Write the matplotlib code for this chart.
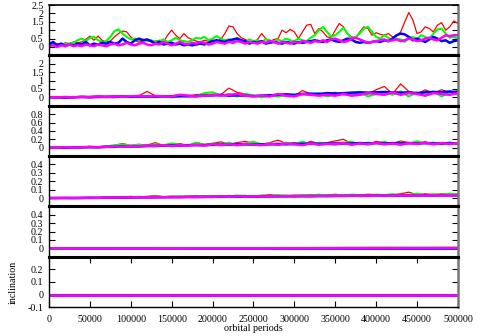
import matplotlib
matplotlib.use('Agg')
import matplotlib.pyplot as plt

plt.rcParams['font.family'] = ['Liberation Serif', 'DejaVu Serif']
plt.rcParams['font.size'] = 7.2

# orbital periods (x) for the three sampling steps used below
periods_fine = list(range(0, 500001, 5000))
periods = list(range(0, 500001, 10000))
periods_coarse = list(range(0, 500001, 50000))

red1 = [0.1, 0.15, 0.2, 0.15, 0.25, 0.2, 0.3, 0.25, 0.3, 0.45,
        0.65, 0.4, 0.65, 0.4, 0.3, 0.35, 0.6, 0.8, 0.95, 0.9,
        0.6, 0.4, 0.3, 0.35, 0.4, 0.3, 0.35, 0.4, 0.3, 0.7,
        1.0, 0.7, 0.5, 0.8, 0.55, 0.45, 0.35, 0.3, 0.4, 0.35,
        0.4, 0.35, 0.45, 0.8, 1.25, 1.2, 0.8, 0.55, 0.45, 0.3,
        0.25, 0.45, 0.8, 0.5, 0.3, 0.45, 0.5, 1.0, 0.85, 1.05,
        0.9, 0.5, 0.9, 1.3, 1.35, 0.8, 1.1, 0.9, 0.6, 0.55,
        1.0, 1.4, 1.2, 0.8, 0.6, 0.55, 0.9, 1.2, 1.1, 0.7,
        0.85, 0.75, 0.7, 0.8, 0.6, 0.65, 0.9, 1.5, 2.05, 1.6,
        0.8, 0.9, 1.2, 1.1, 0.9, 1.3, 1.45, 1.0, 1.2, 1.55,
        1.4]
green1 = [0.1, 0.15, 0.1, 0.2, 0.15, 0.2, 0.25, 0.4, 0.5, 0.35,
          0.55, 0.6, 0.4, 0.3, 0.35, 0.6, 0.95, 1.05, 0.8, 0.6,
          0.45, 0.5, 0.4, 0.45, 0.35, 0.4, 0.3, 0.35, 0.45, 0.3,
          0.4, 0.55, 0.4, 0.35, 0.3, 0.4, 0.55, 0.5, 0.6, 0.4,
          0.5, 0.65, 0.5, 0.4, 0.45, 0.35, 0.55, 0.4, 0.3, 0.45,
          0.35, 0.4, 0.3, 0.45, 0.4, 0.3, 0.45, 0.35, 0.5, 0.4,
          0.35, 0.5, 0.4, 0.35, 0.55, 0.7, 1.0, 1.2, 0.9, 0.6,
          0.7, 0.9, 1.15, 0.8, 0.5, 0.6, 0.8, 1.1, 1.2, 0.9,
          0.6, 0.5, 0.7, 0.55, 0.4, 0.5, 0.45, 0.3, 0.55, 0.6,
          0.45, 0.7, 0.6, 0.5, 0.8, 1.05, 1.1, 0.8, 0.55, 0.6,
          0.5]
blue1 = [0.15, 0.3, 0.1, 0.2, 0.05, 0.15, 0.1, 0.2, 0.15, 0.3,
         0.1, 0.2, 0.15, 0.25, 0.2, 0.3, 0.2, 0.25, 0.5, 0.3,
         0.2, 0.4, 0.5, 0.4, 0.45, 0.35, 0.2, 0.3, 0.15, 0.2,
         0.25, 0.15, 0.2, 0.1, 0.15, 0.1, 0.15, 0.2, 0.15, 0.25,
         0.35, 0.4, 0.35, 0.3, 0.4, 0.45, 0.5, 0.4, 0.35, 0.2,
         0.3, 0.25, 0.35, 0.2, 0.25, 0.3, 0.25, 0.2, 0.3, 0.25,
         0.2, 0.3, 0.25, 0.3, 0.35, 0.4, 0.35, 0.3, 0.4, 0.45,
         0.35, 0.3, 0.4, 0.5, 0.45, 0.3, 0.25, 0.3, 0.25, 0.3,
         0.35, 0.3, 0.4, 0.35, 0.5, 0.7, 0.8, 0.75, 0.6, 0.4,
         0.5, 0.4, 0.3, 0.45, 0.6, 0.5, 0.35, 0.4, 0.25, 0.35,
         0.4]
magenta1 = [0.05, 0.1, 0.0, 0.1, 0.05, 0.15, 0.05, 0.1, 0.05, 0.15,
            0.1, 0.05, 0.15, 0.1, 0.05, 0.15, 0.2, 0.1, 0.15, 0.25,
            0.15, 0.1, 0.2, 0.25, 0.15, 0.1, 0.2, 0.15, 0.3, 0.2,
            0.1, 0.2, 0.3, 0.2, 0.15, 0.25, 0.2, 0.3, 0.25, 0.15,
            0.2, 0.3, 0.25, 0.2, 0.3, 0.25, 0.35, 0.3, 0.2, 0.3,
            0.25, 0.2, 0.3, 0.25, 0.35, 0.3, 0.2, 0.3, 0.25, 0.2,
            0.3, 0.25, 0.35, 0.3, 0.25, 0.35, 0.3, 0.4, 0.3, 0.45,
            0.5, 0.4, 0.3, 0.35, 0.5, 0.55, 0.45, 0.35, 0.25, 0.3,
            0.35, 0.4, 0.45, 0.35, 0.4, 0.45, 0.35, 0.4, 0.5, 0.45,
            0.35, 0.4, 0.5, 0.55, 0.45, 0.4, 0.55, 0.7, 0.65, 0.7,
            0.7]

# panel 2 (step 10000)
red2 = [0.0, 0.0, 0.02, 0.05, 0.03, 0.05, 0.08, 0.05, 0.1, 0.05,
        0.05, 0.1, 0.35, 0.1, 0.05, 0.1, 0.15, 0.1, 0.15, 0.2,
        0.1, 0.15, 0.55, 0.3, 0.2, 0.1, 0.05, 0.15, 0.05, 0.1,
        0.1, 0.4, 0.2, 0.15, 0.2, 0.3, 0.15, 0.2, 0.15, 0.2,
        0.45, 0.65, 0.2, 0.8, 0.35, 0.2, 0.45, 0.25, 0.45, 0.3,
        0.4]
green2 = [0.0, 0.0, 0.02, 0.0, 0.05, 0.02, 0.05, 0.0, 0.05, 0.03,
          0.05, 0.03, 0.05, 0.02, 0.05, 0.0, 0.05, 0.1, 0.05, 0.25,
          0.3, 0.1, 0.2, 0.05, 0.2, 0.1, 0.0, 0.1, 0.05, 0.15,
          0.1, 0.2, 0.15, 0.25, 0.05, 0.2, 0.25, 0.1, 0.3, 0.05,
          0.2, 0.3, 0.15, 0.35, 0.05, 0.3, 0.1, 0.35, 0.05, 0.3,
          0.15]
blue2 = [0.0, 0.0, -0.02, 0.0, 0.02, 0.0, 0.02, 0.03, 0.02, 0.05,
         0.03, 0.05, 0.04, 0.05, 0.06, 0.05, 0.07, 0.06, 0.08, 0.1,
         0.12, 0.15, 0.1, 0.12, 0.1, 0.08, 0.1, 0.12, 0.15, 0.18,
         0.15, 0.2, 0.22, 0.2, 0.25, 0.22, 0.25, 0.28, 0.3, 0.28,
         0.3, 0.32, 0.3, 0.28, 0.3, 0.25, 0.3, 0.32, 0.3, 0.35,
         0.3]
magenta2 = [0.02, 0.0, 0.02, 0.0, 0.03, 0.02, 0.05, 0.03, 0.05, 0.04,
            0.06, 0.08, 0.05, 0.08, 0.06, 0.05, 0.15, 0.1, 0.05, 0.1,
            0.15, 0.1, 0.15, 0.2, 0.1, 0.05, 0.1, 0.05, 0.2, 0.1,
            0.05, 0.2, 0.15, 0.1, 0.15, 0.1, 0.2, 0.1, 0.15, 0.25,
            0.2, 0.15, 0.3, 0.15, 0.25, 0.2, 0.1, 0.25, 0.2, 0.15,
            0.25]

# panel 3
red3 = [0.0, 0.0, 0.01, 0.0, 0.02, 0.03, 0.02, 0.04, 0.05, 0.1,
        0.05, 0.08, 0.06, 0.12, 0.05, 0.07, 0.1, 0.05, 0.12, 0.08,
        0.1, 0.14, 0.08, 0.12, 0.15, 0.1, 0.08, 0.12, 0.18, 0.1,
        0.12, 0.08, 0.15, 0.1, 0.12, 0.16, 0.2, 0.1, 0.12, 0.08,
        0.15, 0.12, 0.1, 0.16, 0.12, 0.1, 0.14, 0.08, 0.12, 0.1,
        0.12]
green3 = [0.0, 0.0, 0.0, 0.01, 0.0, 0.02, 0.01, 0.03, 0.06, 0.08,
          0.05, 0.07, 0.04, 0.08, 0.06, 0.1, 0.07, 0.05, 0.12, 0.06,
          0.1, 0.08, 0.12, 0.06, 0.1, 0.14, 0.08, 0.1, 0.07, 0.12,
          0.09, 0.14, 0.08, 0.12, 0.1, 0.08, 0.12, 0.14, 0.08, 0.12,
          0.1, 0.14, 0.08, 0.12, 0.1, 0.15, 0.1, 0.12, 0.08, 0.12,
          0.1]
blue3 = [0.0, 0.0, 0.0, 0.0, 0.01, 0.01, 0.01, 0.02, 0.02, 0.03,
         0.03, 0.03, 0.04, 0.04, 0.05, 0.05, 0.05, 0.06, 0.06, 0.06,
         0.07, 0.07, 0.07, 0.08, 0.08, 0.07, 0.08, 0.08, 0.09, 0.08,
         0.09, 0.09, 0.1, 0.09, 0.1, 0.1, 0.1, 0.1, 0.11, 0.1,
         0.11, 0.1, 0.11, 0.1, 0.11, 0.1, 0.11, 0.1, 0.1, 0.11,
         0.1]
magenta3 = [0.0, 0.0, 0.01, 0.0, 0.01, 0.02, 0.01, 0.02, 0.03, 0.02,
            0.04, 0.03, 0.05, 0.04, 0.06, 0.04, 0.06, 0.05, 0.07, 0.05,
            0.08, 0.06, 0.08, 0.06, 0.09, 0.07, 0.06, 0.09, 0.07, 0.1,
            0.08, 0.06, 0.1, 0.07, 0.09, 0.08, 0.11, 0.07, 0.1, 0.08,
            0.12, 0.08, 0.1, 0.07, 0.11, 0.09, 0.12, 0.08, 0.11, 0.09,
            0.11]

# panel 4
red4 = [0.0, 0.0, 0.0, 0.0, 0.005, 0.0, 0.005, 0.01, 0.005, 0.01,
        0.02, 0.01, 0.02, 0.03, 0.015, 0.02, 0.015, 0.02, 0.03, 0.02,
        0.025, 0.02, 0.03, 0.025, 0.03, 0.02, 0.03, 0.04, 0.03, 0.025,
        0.035, 0.03, 0.04, 0.03, 0.035, 0.045, 0.03, 0.04, 0.035, 0.045,
        0.04, 0.035, 0.04, 0.05, 0.07, 0.04, 0.05, 0.04, 0.05, 0.045,
        0.05]
green4 = [0.0, 0.0, 0.0, 0.0, 0.0, 0.005, 0.0, 0.005, 0.01, 0.005,
          0.01, 0.015, 0.01, 0.02, 0.01, 0.015, 0.02, 0.015, 0.02, 0.025,
          0.02, 0.025, 0.02, 0.03, 0.025, 0.02, 0.03, 0.025, 0.035, 0.03,
          0.025, 0.035, 0.03, 0.04, 0.03, 0.035, 0.03, 0.04, 0.035, 0.03,
          0.04, 0.035, 0.045, 0.03, 0.04, 0.05, 0.035, 0.045, 0.04, 0.05,
          0.045]
blue4 = [0.0, 0.0, 0.0, 0.0, 0.0, 0.002, 0.002, 0.004, 0.004, 0.005,
         0.006, 0.007, 0.008, 0.008, 0.01, 0.01, 0.011, 0.012, 0.012, 0.013,
         0.014, 0.015, 0.015, 0.016, 0.017, 0.017, 0.018, 0.019, 0.02, 0.02,
         0.021, 0.022, 0.022, 0.023, 0.024, 0.024, 0.025, 0.026, 0.026, 0.027,
         0.028, 0.028, 0.029, 0.03, 0.029, 0.03, 0.031, 0.03, 0.031, 0.032,
         0.03]
magenta4 = [0.0, 0.0, 0.002, 0.0, 0.003, 0.004, 0.003, 0.006, 0.005, 0.008,
            0.007, 0.01, 0.008, 0.012, 0.01, 0.013, 0.011, 0.015, 0.012, 0.016,
            0.014, 0.018, 0.015, 0.019, 0.017, 0.02, 0.018, 0.022, 0.019, 0.023,
            0.021, 0.024, 0.022, 0.026, 0.023, 0.027, 0.025, 0.028, 0.026, 0.029,
            0.027, 0.03, 0.028, 0.032, 0.029, 0.031, 0.03, 0.033, 0.031, 0.034,
            0.032]

# panel 5 and 6 (step 50000, nearly flat)
red5 = [0.0, 0.0, 0.002, 0.003, 0.005, 0.006, 0.008, 0.01, 0.012, 0.01, 0.012]
green5 = [0.0, 0.0, 0.001, 0.002, 0.003, 0.004, 0.005, 0.006, 0.007, 0.008, 0.008]
blue5 = [0.0, 0.0, 0.0, 0.0, -0.001, -0.001, -0.002, -0.002, -0.003, -0.003, -0.003]
magenta5 = [0.0, 0.0, 0.0, 0.001, 0.001, 0.001, 0.002, 0.002, 0.002, 0.003, 0.003]
red6 = [0.0] * 11
green6 = [0.0] * 11
blue6 = [0.0] * 11
magenta6 = [0.0] * 11

panels = [
    (periods_fine, [red1, green1, blue1, magenta1], (-0.5, 2.5), [0, 0.5, 1, 1.5, 2, 2.5]),
    (periods, [red2, green2, blue2, magenta2], (-0.5, 2.5), [0, 0.5, 1, 1.5, 2]),
    (periods, [red3, green3, blue3, magenta3], (-0.2, 1.0), [0, 0.2, 0.4, 0.6, 0.8]),
    (periods, [red4, green4, blue4, magenta4], (-0.1, 0.5), [0, 0.1, 0.2, 0.3, 0.4]),
    (periods_coarse, [red5, green5, blue5, magenta5], (-0.1, 0.5), [0, 0.1, 0.2, 0.3, 0.4]),
    (periods_coarse, [red6, green6, blue6, magenta6], (-0.1, 0.3), [-0.1, 0, 0.1, 0.2]),
]
colors = ['#ff0000', '#00ff00', '#0000ff', '#ff00ff']
widths = [0.9, 1.5, 1.8, 1.8]

fig, axes = plt.subplots(6, 1, figsize=(4.8, 3.36), dpi=100, sharex=True)
fig.subplots_adjust(left=0.102, right=0.954, top=0.985, bottom=0.086, hspace=0)

for i, (ax, (xs, series, ylim, yt)) in enumerate(zip(axes, panels)):
    for ys, c, w in zip(series, colors, widths):
        ax.plot(xs, ys, color=c, lw=w)
    ax.set_xlim(0, 500000)
    ax.set_ylim(*ylim)
    ax.set_yticks(yt)
    ax.set_yticklabels(['%g' % v for v in yt])
    ax.tick_params(axis='y', direction='in', left=True, right=True, length=4, width=0.8, pad=4)
    last = i == len(axes) - 1
    ax.tick_params(axis='x', direction='in', top=last, bottom=last, length=4, width=0.8, pad=6)
    ax.spines['left'].set_linewidth(1.0)
    ax.spines['right'].set_color('#777777')
    ax.spines['right'].set_linewidth(1.8)
    ax.spines['top'].set_linewidth(2.2 if i > 0 else 1.2)
    ax.spines['bottom'].set_linewidth(2.2 if not last else 1.0)

axes[-1].set_xticks(list(range(0, 500001, 50000)))
axes[-1].set_xlabel('orbital periods', labelpad=0)
axes[-1].set_ylabel('inclination', labelpad=7)

fig.savefig('out.png', dpi=100)
